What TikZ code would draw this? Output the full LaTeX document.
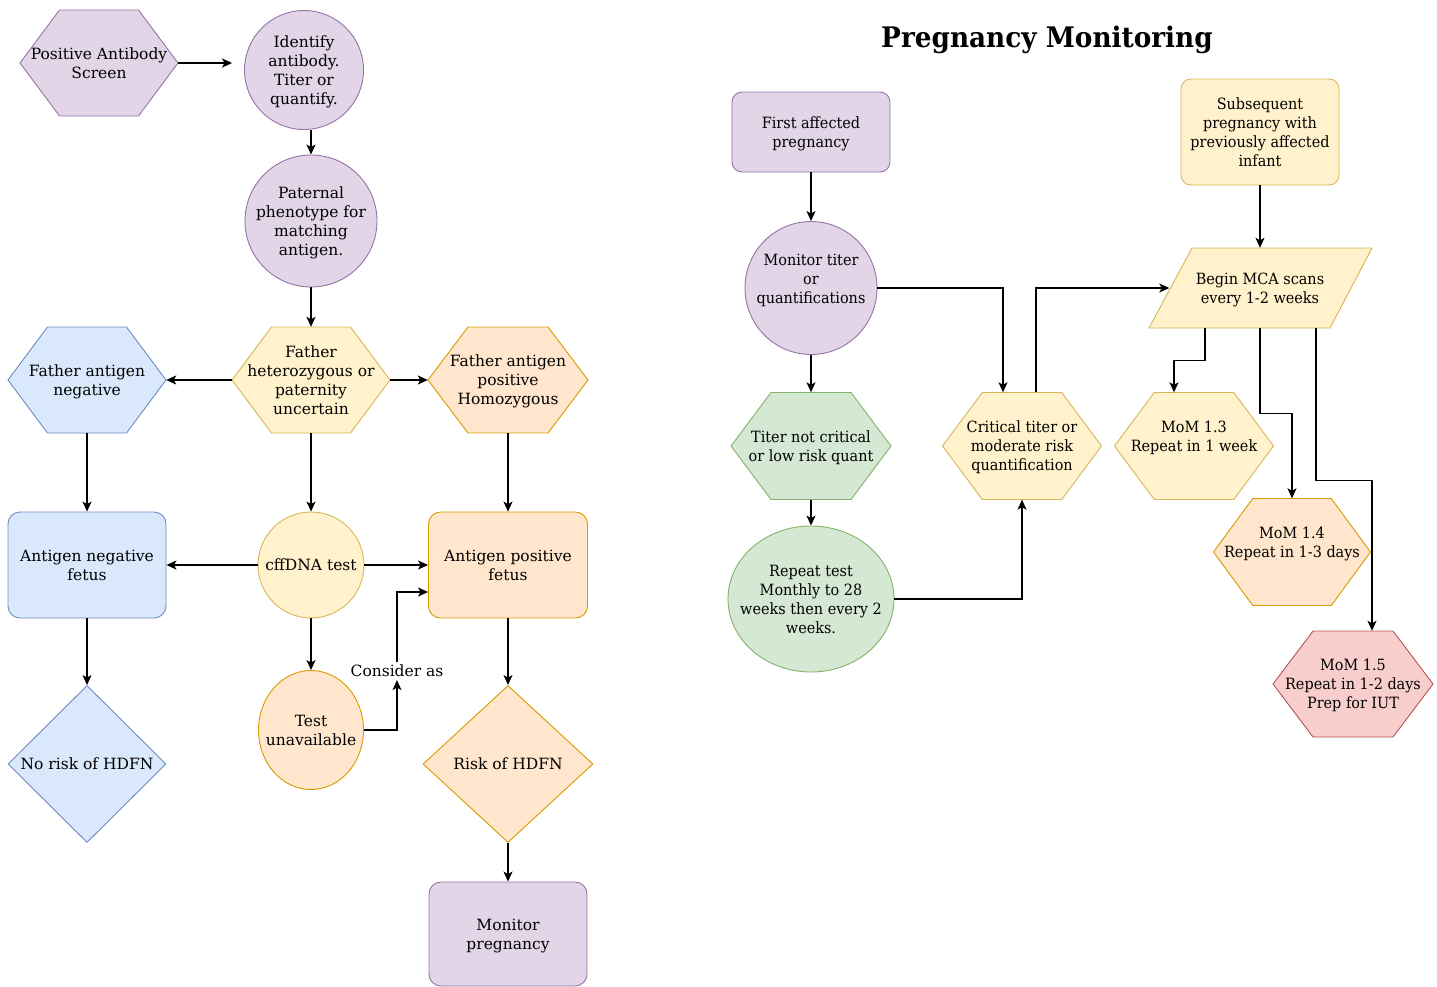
\documentclass[tikz,border=0pt]{standalone}
\usepackage{fontspec}
\setmainfont{DejaVu Serif}
\newfontfamily\rightfont[FakeStretch=0.93]{DejaVu Serif}
\usetikzlibrary{arrows.meta, shapes.geometric, calc}
\definecolor{purplefill}{HTML}{E1D5E7}
\definecolor{purpleline}{HTML}{9673A6}
\definecolor{bluefill}{HTML}{DAE8FC}
\definecolor{blueline}{HTML}{6C8EBF}
\definecolor{yellowfill}{HTML}{FFF2CC}
\definecolor{yellowline}{HTML}{D6B656}
\definecolor{orangefill}{HTML}{FFE6CC}
\definecolor{orangeline}{HTML}{D79B00}
\definecolor{greenfill}{HTML}{D5E8D4}
\definecolor{greenline}{HTML}{82B366}
\definecolor{redfill}{HTML}{F8CECC}
\definecolor{redline}{HTML}{B85450}

\tikzset{
  purplebox/.style={fill=purplefill, draw=purpleline, line width=0.9pt},
  bluebox/.style={fill=bluefill, draw=blueline, line width=0.9pt},
  yellowbox/.style={fill=yellowfill, draw=yellowline, line width=0.9pt},
  orangebox/.style={fill=orangefill, draw=orangeline, line width=0.9pt},
  greenbox/.style={fill=greenfill, draw=greenline, line width=0.9pt},
  redbox/.style={fill=redfill, draw=redline, line width=0.9pt},
  txt/.style={align=center, inner sep=0pt, text depth=-3pt, font=\fontsize{15.5}{19}\selectfont},
  rtxt/.style={txt, font=\rightfont\fontsize{15.5}{19}\selectfont},
  roundbox/.style={rectangle, rounded corners=12pt},
  ovalbox/.style={ellipse, inner xsep=-15pt},
  edge/.style={draw=black, line width=1.2pt, -{Stealth[length=10pt, width=9pt, inset=2.5pt]}}
}

% hexagon: name, x, y, width, height, colour style, text style, text
\newcommand{\hexnode}[8]{%
  \draw[#6] (#2-#4/2,#3) -- (#2-#4/4,#3-#5/2) -- (#2+#4/4,#3-#5/2) -- (#2+#4/2,#3)
    -- (#2+#4/4,#3+#5/2) -- (#2-#4/4,#3+#5/2) -- cycle;
  \node[#7, minimum width=#4, minimum height=#5] (#1) at (#2,#3) {#8};
}

\begin{document}
\begin{tikzpicture}[x=1pt, y=-1pt]
    \useasboundingbox (0,0) rectangle (1437,986);

    % antibody screen workup
    \hexnode{pos}{99}{63}{158}{106}{purplebox}{txt}{Positive Antibody\\Screen}
    \node[txt, purplebox, ovalbox, minimum size=119] (ident) at (304,70) {Identify\\antibody.\\Titer or\\quantify.};
    \node[txt, purplebox, ovalbox, minimum size=132] (pat) at (311,221) {Paternal\\phenotype for\\matching\\antigen.};

    \hexnode{fhet}{311}{380}{158}{106}{yellowbox}{txt}{Father\\heterozygous or\\paternity\\uncertain}
    \hexnode{fneg}{87}{380}{158}{106}{bluebox}{txt}{Father antigen\\negative}
    \hexnode{fpos}{508}{380}{160}{106}{orangebox}{txt}{Father antigen\\positive\\Homozygous}

    \node[txt, bluebox, roundbox, minimum width=158, minimum height=106] (negfetus) at (87,565) {Antigen negative\\fetus};
    \node[txt, yellowbox, ovalbox, minimum size=106] (cff) at (311,565) {cffDNA test};
    \node[txt, orangebox, roundbox, minimum width=159, minimum height=106] (posfetus) at (508,565) {Antigen positive\\fetus};

    \node[txt, orangebox, ovalbox, minimum width=105, minimum height=119] (unav) at (311,730) {Test\\unavailable};
    \node[txt, inner sep=3pt] (consider) at (397,671) {Consider as};

    \node[txt, bluebox, diamond, minimum width=158, minimum height=157] (norisk) at (87,764) {No risk of HDFN};
    \node[txt, orangebox, diamond, minimum width=170, minimum height=157] (risk) at (508,764) {Risk of HDFN};
    \node[txt, purplebox, roundbox, minimum width=158, minimum height=104] (monitor) at (508,934) {Monitor\\pregnancy};

    \draw[edge, shorten >=12pt] (pos.east) -- (pos.east -| ident.west);
    \draw[edge] (pat.north |- ident.south) -- (pat.north);
    \draw[edge] (pat.south) -- (fhet.north);
    \draw[edge] (fhet.west) -- (fneg.east);
    \draw[edge] (fhet.east) -- (fpos.west);
    \draw[edge] (fneg.south) -- (negfetus.north);
    \draw[edge] (fhet.south) -- (cff.north);
    \draw[edge] (fpos.south) -- (posfetus.north);
    \draw[edge] (cff.west) -- (negfetus.east);
    \draw[edge] (cff.east) -- (posfetus.west);
    \draw[edge] (cff.south) -- (unav.north);
    \draw[edge] (unav.east) -| (consider.south);
    \draw[edge] (consider.north) |- ($(posfetus.west)+(0,27)$);
    \draw[edge] (negfetus.south) -- (norisk.north);
    \draw[edge] (posfetus.south) -- (risk.north);
    \draw[edge] (risk.south) -- (monitor.north);

    % pregnancy monitoring
    \node[font=\rightfont\bfseries\fontsize{28.3}{33}\selectfont, inner sep=0pt] (title) at (1047,40) {Pregnancy Monitoring};

    \node[rtxt, purplebox, roundbox, rounded corners=10pt, minimum width=158, minimum height=80] (first) at (811,132) {First affected\\pregnancy};
    \node[rtxt, yellowbox, roundbox, rounded corners=10pt, minimum width=158, minimum height=106] (subs) at (1260,132) {Subsequent\\pregnancy with\\previously affected\\infant};
    \node[rtxt, purplebox, ovalbox, minimum width=132, minimum height=133] (mon) at (811,288) {Monitor titer\\or\\quantifications\\\strut};

    \draw[yellowbox] (1149,328) -- (1192,248) -- (1372,248) -- (1330,328) -- cycle;
    \node[rtxt, minimum width=223, minimum height=80] (mca) at (1260,288) {Begin MCA scans\\every 1-2 weeks};

    \hexnode{tnc}{811}{446}{160}{107}{greenbox}{rtxt}{Titer not critical\\or low risk quant}
    \hexnode{critical}{1022}{446}{159}{107}{yellowbox}{rtxt}{Critical titer or\\moderate risk\\quantification}
    \hexnode{mom13}{1194}{446}{159}{107}{yellowbox}{rtxt}{MoM 1.3\\Repeat in 1 week\\\strut}
    \hexnode{mom14}{1292}{552}{157}{107}{orangebox}{rtxt}{MoM 1.4\\Repeat in 1-3 days\\\strut}
    \hexnode{mom15}{1353}{684}{160}{106}{redbox}{rtxt}{MoM 1.5\\Repeat in 1-2 days\\Prep for IUT}
    \node[rtxt, greenbox, ovalbox, minimum width=166, minimum height=146] (rep) at (811,599) {Repeat test\\Monthly to 28\\weeks then every 2\\weeks.};

    \draw[edge] (first.south) -- (mon.north);
    \draw[edge] (subs.south) -- (mca.north);
    \draw[edge] (mon.east) -| ($(critical.north)+(-19,0)$);
    \draw[edge] ($(critical.north)+(14,0)$) |- ([xshift=21pt]mca.west);
    \draw[edge] (mon.south) -- (tnc.north);
    \draw[edge] (tnc.south) -- (rep.north);
    \draw[edge] (rep.east) -| (critical.south);
    \draw[edge] ([xshift=-55pt]mca.south) -- ++(0,32) -| ([xshift=-20pt]mom13.north);
    \draw[edge] (mca.south) -- ++(0,85) -| (mom14.north);
    \draw[edge] ([xshift=56pt]mca.south) -- ++(0,152) -| ([xshift=19pt]mom15.north);
\end{tikzpicture}
\end{document}
